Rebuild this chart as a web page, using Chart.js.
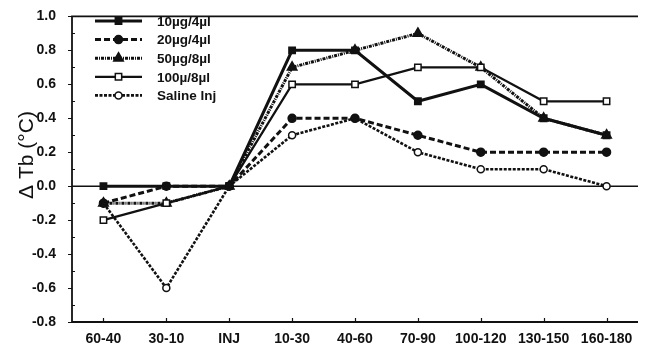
<!DOCTYPE html>
<html>
<head>
<meta charset="utf-8">
<script src="https://cdn.jsdelivr.net/npm/chart.js@4/dist/chart.umd.min.js"></script>
<style>
  html, body { margin: 0; padding: 0; background: #fff; }
  #wrap { width: 645px; height: 347px; position: relative; }
</style>
</head>
<body>
<div id="wrap"><canvas id="tb"></canvas></div>
<script>
// Change in body temperature per time window
const timeBins = ['60-40', '30-10', 'INJ', '10-30', '40-60', '70-90', '100-120', '130-150', '160-180'];

const dose10_4  = [0.0, 0.0, 0.0, 0.8, 0.8, 0.5, 0.6, 0.4, 0.3];
const dose20_4  = [-0.1, 0.0, 0.0, 0.4, 0.4, 0.3, 0.2, 0.2, 0.2];
const dose50_8  = [-0.1, -0.1, 0.0, 0.7, 0.8, 0.9, 0.7, 0.4, 0.3];
const dose100_8 = [-0.2, -0.1, 0.0, 0.6, 0.6, 0.7, 0.7, 0.5, 0.5];
const saline    = [-0.1, -0.6, 0.0, 0.3, 0.4, 0.2, 0.1, 0.1, 0.0];

const yTicks = [-0.8, -0.6, -0.4, -0.2, 0.0, 0.2, 0.4, 0.6, 0.8, 1.0];

const INK = '#111';
const FONT = '"Liberation Sans", Arial, sans-serif';

function series(label, data, opts) {
  return Object.assign({
    label, data,
    borderColor: INK,
    pointBorderColor: INK,
    pointBorderWidth: 1.5,
    tension: 0,
    fill: false
  }, opts);
}

// lower order is painted on top
const datasets = [
  series('10µg/4µl', dose10_4, {
    order: 0, borderWidth: 3, pointStyle: 'rect', pointRadius: 4.5, pointBackgroundColor: INK
  }),
  series('20µg/4µl', dose20_4, {
    order: 2, borderWidth: 3, borderDash: [6, 3], pointStyle: 'circle', pointRadius: 4, pointBackgroundColor: INK
  }),
  series('50µg/8µl', dose50_8, {
    order: 4, borderWidth: 3, borderDash: [3, 1, 1, 1], pointStyle: 'triangle', pointRadius: 5.5, pointBackgroundColor: INK
  }),
  series('100µ/8µl', dose100_8, {
    order: 1, borderWidth: 2.2, pointStyle: 'rect', pointRadius: 4.5, pointBackgroundColor: '#fff'
  }),
  series('Saline Inj', saline, {
    order: 3, borderWidth: 2.6, borderDash: [3, 1.5], pointStyle: 'circle', pointRadius: 3.5, pointBackgroundColor: '#fff'
  })
];

// frame, zero line, ticks, y title and the in-plot legend
const decorations = {
  id: 'decorations',
  beforeDatasetsDraw(chart) {
    const { ctx, chartArea: a, scales: { y } } = chart;
    ctx.save();
    ctx.strokeStyle = INK;
    ctx.lineWidth = 1.5;
    ctx.beginPath();
    ctx.moveTo(a.left, y.getPixelForValue(0));
    ctx.lineTo(a.right, y.getPixelForValue(0));
    ctx.stroke();
    ctx.restore();
  },
  afterDraw(chart) {
    const { ctx, chartArea: a, scales: { x, y } } = chart;
    ctx.save();
    ctx.strokeStyle = INK;
    ctx.lineWidth = 1.8;
    ctx.beginPath();
    ctx.moveTo(a.left, a.bottom);
    ctx.lineTo(a.left, a.top);
    ctx.lineTo(a.right, a.top);
    ctx.moveTo(a.left, a.bottom);
    ctx.lineTo(a.right, a.bottom);
    ctx.stroke();

    // y ticks: majors outward, minors inward
    ctx.lineWidth = 1.2;
    ctx.beginPath();
    for (let v = -0.8; v <= 1.0001; v += 0.1) {
      const py = Math.round(y.getPixelForValue(v)) + 0.5;
      const major = Math.round(v * 10) % 2 === 0;
      if (major) { ctx.moveTo(a.left - 4, py); ctx.lineTo(a.left, py); }
      else { ctx.moveTo(a.left, py); ctx.lineTo(a.left + 3, py); }
    }
    // x ticks pointing up into the plot
    timeBins.forEach((_, i) => {
      const px = Math.round(x.getPixelForValue(i)) + 0.5;
      ctx.moveTo(px, a.bottom);
      ctx.lineTo(px, a.bottom - 4);
    });
    ctx.stroke();

    // y axis title
    ctx.fillStyle = INK;
    ctx.font = '21px ' + FONT;
    ctx.textAlign = 'center';
    ctx.textBaseline = 'middle';
    ctx.translate(27, 155);
    ctx.rotate(-Math.PI / 2);
    ctx.fillText('Δ Tb (°C)', 0, 0);
    ctx.restore();

    // legend
    ctx.save();
    const x0 = 95, x1 = 142, tx = 157, top = 21, step = 18.6;
    chart.data.datasets.forEach((ds, i) => {
      const ly = top + i * step;
      ctx.strokeStyle = INK;
      ctx.lineWidth = ds.borderWidth;
      ctx.setLineDash(ds.borderDash || []);
      ctx.beginPath();
      ctx.moveTo(x0, ly);
      ctx.lineTo(x1, ly);
      ctx.stroke();
      ctx.setLineDash([]);
      ctx.fillStyle = ds.pointBackgroundColor;
      ctx.lineWidth = ds.pointBorderWidth;
      Chart.helpers.drawPoint(ctx, {
        pointStyle: ds.pointStyle, radius: ds.pointRadius, borderWidth: ds.pointBorderWidth, rotation: 0
      }, (x0 + x1) / 2, ly);
      ctx.fillStyle = INK;
      ctx.font = 'bold 13.5px ' + FONT;
      ctx.textAlign = 'left';
      ctx.textBaseline = 'middle';
      ctx.fillText(ds.label, tx, ly + 1);
    });
    ctx.restore();
  }
};

new Chart(document.getElementById('tb'), {
  type: 'line',
  data: { labels: timeBins, datasets },
  plugins: [decorations],
  options: {
    responsive: true,
    maintainAspectRatio: false,
    animation: false,
    layout: { padding: { top: 13, right: 0, bottom: 0, left: 0 } },
    plugins: { legend: { display: false }, tooltip: { enabled: false } },
    scales: {
      x: {
        type: 'category',
        offset: true,
        grid: { display: false },
        border: { display: false },
        ticks: { color: INK, font: { family: FONT, size: 14, weight: 'bold' }, padding: 1, maxRotation: 0, autoSkip: false },
        afterFit: s => { s.height = 25; }
      },
      y: {
        min: -0.8,
        max: 1.0,
        grid: { display: false },
        border: { display: false },
        afterBuildTicks: s => { s.ticks = yTicks.map(v => ({ value: v })); },
        ticks: {
          color: INK,
          font: { family: FONT, size: 14, weight: 'bold' },
          padding: 8,
          callback: v => Number(v).toFixed(1)
        },
        afterFit: s => { s.width = 72; }
      }
    }
  }
});
</script>
</body>
</html>
